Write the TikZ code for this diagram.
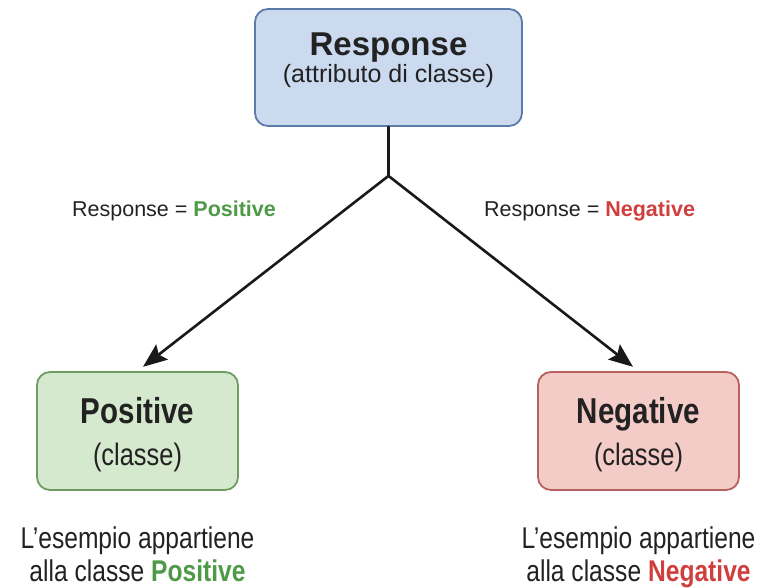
\documentclass[tikz,border=0pt]{standalone}
\usepackage{fontspec}
\setmainfont{Liberation Sans}
\newfontfamily\narrowsans{Liberation Sans}[FakeStretch=0.82]
\usepackage{xcolor}
\usetikzlibrary{positioning,arrows.meta}

\definecolor{inkdark}{HTML}{222222}
\definecolor{respfill}{HTML}{CCDAF0}
\definecolor{respdraw}{HTML}{5B7BA8}
\definecolor{posfill}{HTML}{D5E9CE}
\definecolor{posdraw}{HTML}{6E9C63}
\definecolor{negfill}{HTML}{F3CBC7}
\definecolor{negdraw}{HTML}{B8625D}
\definecolor{posgreen}{HTML}{4E9A47}
\definecolor{negred}{HTML}{D03E3E}

\begin{document}
\begin{tikzpicture}[x=1pt, y=-1pt,
		boxnode/.style={rectangle, rounded corners=13pt, line width=1.8pt, inner sep=0pt, align=center, text=inkdark},
		rootnode/.style={boxnode, draw=respdraw, fill=respfill, minimum width=267pt, minimum height=117pt, font=\fontsize{25}{27}\selectfont},
		posnode/.style={boxnode, draw=posdraw, fill=posfill, minimum width=201pt, minimum height=118pt, font=\narrowsans\fontsize{31}{42}\selectfont},
		negnode/.style={posnode, draw=negdraw, fill=negfill},
		labelnode/.style={inner sep=0pt, text=inkdark, font=\fontsize{21.5}{25}\selectfont},
		notenode/.style={inner sep=0pt, align=center, text=inkdark, font=\narrowsans\fontsize{30}{33}\selectfont},
		link/.style={line width=2.6pt, line cap=round, draw=black!90},
	]
	\useasboundingbox (0,0) rectangle (769,587);

	% nodes
	\node[rootnode] (resp) at (388.5,67.5) {{\fontsize{33}{27}\selectfont\bfseries Response}\\(attributo di classe)\rule[-19.5pt]{0pt}{19.5pt}};
	\coordinate[below=49pt of resp.south] (split);
	\node[posnode] (pos) at (137.5,431) {\rule{0pt}{32.6pt}{\fontsize{36}{42}\selectfont\bfseries Positive}\\(classe)};
	\node[negnode] (neg) at (638.5,431) {\rule{0pt}{32.6pt}{\fontsize{36}{42}\selectfont\bfseries Negative}\\(classe)};

	\node[labelnode] (poslabel) at (174,211) {Response = \textcolor{posgreen}{\bfseries Positive}};
	\node[labelnode] (neglabel) at (589.5,211) {Response = \textcolor{negred}{\bfseries Negative}};

	\node[notenode] (posnote) [below=35.5pt of pos] {L’esempio appartiene\\alla classe \textcolor{posgreen}{\bfseries Positive}};
	\node[notenode] (negnote) [below=35.5pt of neg] {L’esempio appartiene\\alla classe \textcolor{negred}{\bfseries Negative}};

	% lines
	\draw[link] (resp.south) -- (split);
	\draw[link, -{Stealth[length=24pt, width=19pt, inset=4pt]}, shorten >=7pt] (split) -- (pos.north);
	\draw[link, -{Stealth[length=24pt, width=19pt, inset=4pt]}, shorten >=7pt] (split) -- (neg.north);
\end{tikzpicture}
\end{document}
